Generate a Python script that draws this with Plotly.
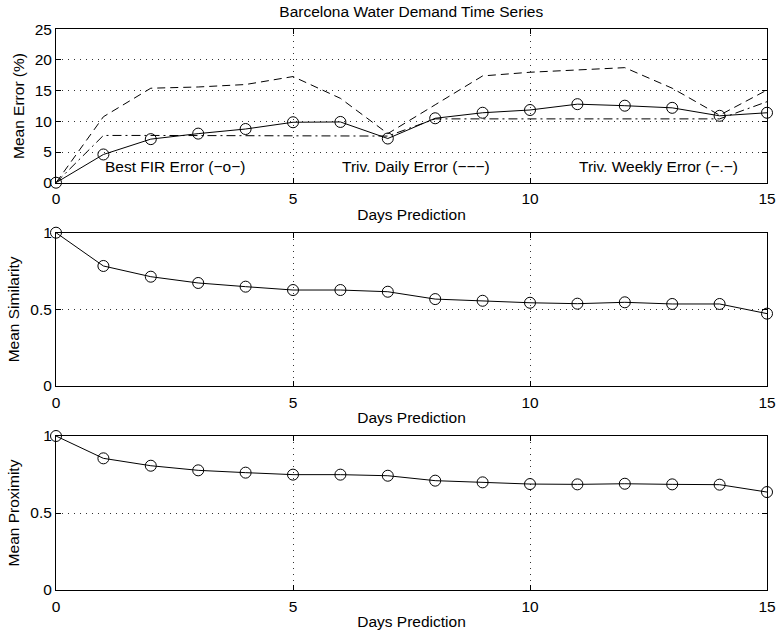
import plotly.graph_objects as go

days = list(range(16))
fir_error = [0, 4.6, 7.1, 8.0, 8.75, 9.85, 9.9, 7.2, 10.5, 11.4, 11.85, 12.8, 12.55, 12.2, 10.9, 11.4]
daily_error = [0, 10.75, 15.4, 15.6, 16.0, 17.3, 13.75, 8.0, 12.7, 17.4, 18.0, 18.4, 18.75, 15.4, 11.0, 15.1]
weekly_error = [0, 7.7, 7.7, 7.7, 7.7, 7.7, 7.7, 7.6, 10.4, 10.4, 10.4, 10.4, 10.4, 10.4, 10.4, 13.2]
similarity = [1.0, 0.783, 0.713, 0.672, 0.648, 0.626, 0.626, 0.615, 0.567, 0.556, 0.543, 0.537, 0.546, 0.535, 0.535, 0.472]
proximity = [1.0, 0.855, 0.807, 0.777, 0.762, 0.749, 0.749, 0.742, 0.710, 0.699, 0.688, 0.686, 0.690, 0.686, 0.684, 0.636]

labels = [(1, "Best FIR Error (\u2212o\u2212)"), (6, "Triv. Daily Error (\u2212\u2212\u2212)"), (11, "Triv. Weekly Error (\u2212.\u2212)")]
label_y = 2.7

FONT = "Liberation Sans, Arial, Helvetica, sans-serif"
FS = 15.5
W, H = 777, 637
mt, mb, ml, mr = 29, 47, 56, 10
ph = H - mt - mb

def dom(top_px, bot_px):
    return [(H - mb - bot_px) / ph, (H - mb - top_px) / ph]

fig = go.Figure()

line = dict(color="black", width=1)
marker = dict(symbol="circle-open", size=11, color="black", line=dict(width=1, color="black"))

fig.add_trace(go.Scatter(x=days, y=daily_error, mode="lines", line=dict(color="black", width=1, dash="8px,5px"), xaxis="x", yaxis="y", cliponaxis=False))
fig.add_trace(go.Scatter(x=days, y=weekly_error, mode="lines", line=dict(color="black", width=1, dash="9px,4px,2px,4px"), xaxis="x", yaxis="y", cliponaxis=False))
fig.add_trace(go.Scatter(x=days, y=fir_error, mode="lines+markers", line=line, marker=marker, xaxis="x", yaxis="y", cliponaxis=False))
fig.add_trace(go.Scatter(x=days, y=similarity, mode="lines+markers", line=line, marker=marker, xaxis="x2", yaxis="y2", cliponaxis=False))
fig.add_trace(go.Scatter(x=days, y=proximity, mode="lines+markers", line=line, marker=marker, xaxis="x3", yaxis="y3", cliponaxis=False))

for xv, txt in labels:
    fig.add_annotation(x=xv, y=label_y, xref="x", yref="y", text=txt, showarrow=False,
                       xanchor="left", yanchor="middle", font=dict(family=FONT, size=FS, color="black"))

def xax(anchor):
    return dict(range=[0, 15], dtick=5, tick0=0, ticks="inside", ticklen=5, tickcolor="black",
                showline=True, linecolor="black", linewidth=1, mirror="ticks",
                showgrid=True, gridcolor="#333", gridwidth=1, griddash="1px,5px",
                zeroline=False, anchor=anchor, automargin=False, ticklabelstandoff=2,
                tickfont=dict(family=FONT, size=FS, color="black"),
                title=dict(text="Days Prediction", font=dict(family=FONT, size=FS, color="black"), standoff=2))

def yax(anchor, rng, dt, dom_, title, standoff):
    return dict(range=rng, dtick=dt, tick0=0, ticks="inside", ticklen=5, tickcolor="black",
                showline=True, linecolor="black", linewidth=1, mirror="ticks",
                showgrid=True, gridcolor="#333", gridwidth=1, griddash="1px,5px",
                zeroline=False, anchor=anchor, domain=dom_, automargin=False,
                tickfont=dict(family=FONT, size=FS, color="black"),
                title=dict(text=title, font=dict(family=FONT, size=FS, color="black"), standoff=standoff))

fig.update_layout(
    width=W, height=H,
    margin=dict(l=ml, r=mr, t=mt, b=mb),
    paper_bgcolor="white", plot_bgcolor="white",
    showlegend=False,
    title=dict(text="Barcelona Water Demand Time Series", x=0.5293, xanchor="center", y=1 - 12 / H, yanchor="middle",
               font=dict(family=FONT, size=FS, color="black")),
    xaxis=xax("y"), xaxis2=xax("y2"), xaxis3=xax("y3"),
    yaxis=yax("x", [0, 25], 5, dom(29.3, 182.7), "Mean Error (%)", 6),
    yaxis2=yax("x2", [0, 1], 0.5, dom(232.7, 386), "Mean Similarity", 6),
    yaxis3=yax("x3", [0, 1], 0.5, dom(436, 590), "Mean Proximity", 6),
)

fig.write_html("out.html")
